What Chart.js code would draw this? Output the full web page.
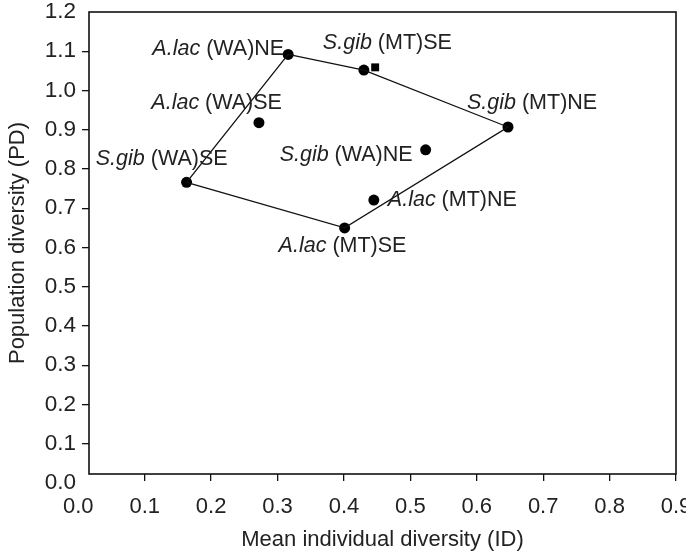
<!DOCTYPE html>
<html>
<head>
<meta charset="utf-8">
<script src="https://cdn.jsdelivr.net/npm/chart.js@4/dist/chart.umd.min.js"></script>
<style>
    html, body { margin: 0; padding: 0; background: #fff; }
    #wrap { width: 686px; height: 556px; position: relative; }
</style>
</head>
<body>
<div id="wrap"><canvas id="chart"></canvas></div>
<script>
// Populations: species (italic) + site, mean individual diversity and population diversity
const speciesNames = ['A.lac', 'S.gib', 'A.lac', 'S.gib', 'A.lac', 'A.lac', 'S.gib', 'S.gib'];
const siteNames = ['(WA)NE', '(MT)SE', '(WA)SE', '(WA)SE', '(MT)SE', '(MT)NE', '(MT)NE', '(WA)NE'];
const meanID = [0.316, 0.430, 0.272, 0.163, 0.401, 0.445, 0.647, 0.523];
const popPD = [1.092, 1.052, 0.918, 0.766, 0.650, 0.721, 0.907, 0.849];

// Square marker next to S.gib (MT)SE
const squareID = [0.447];
const squarePD = [1.059];

// Outline joining the outer populations (indices into the arrays above)
const hullOrder = [0, 1, 6, 4, 3, 0];

const xTicks = [0.0, 0.1, 0.2, 0.3, 0.4, 0.5, 0.6, 0.7, 0.8, 0.9];
const yTicks = [0.0, 0.1, 0.2, 0.3, 0.4, 0.5, 0.6, 0.7, 0.8, 0.9, 1.0, 1.1, 1.2];

// where each label sits relative to its point
const labelPlacement = [
    { align: 'right', dx: -4, dy: -5 },
    { align: 'left', dx: -41, dy: -27 },
    { align: 'right', dx: 23, dy: -20 },
    { align: 'right', dx: 41, dy: -23 },
    { align: 'left', dx: -66, dy: 18 },
    { align: 'left', dx: 14, dy: 0 },
    { align: 'left', dx: -41, dy: -24 },
    { align: 'right', dx: -13, dy: 5 }
];

const FONT = "'Liberation Sans', Arial, Helvetica, sans-serif";
const INK = '#222';
Chart.defaults.font.family = FONT;
Chart.defaults.color = INK;

// frame round the plot area
const frameBox = {
    id: 'frameBox',
    beforeDatasetsDraw(chart) {
        const { ctx, chartArea: a } = chart;
        ctx.save();
        ctx.strokeStyle = '#111';
        ctx.lineWidth = 1.6;
        ctx.strokeRect(a.left, a.top, a.right - a.left, a.bottom - a.top);
        ctx.restore();
    }
};

// population labels: italic species, upright site
const pointLabels = {
    id: 'pointLabels',
    afterDatasetsDraw(chart) {
        const { ctx } = chart;
        const meta = chart.getDatasetMeta(1);
        ctx.save();
        ctx.fillStyle = INK;
        ctx.textBaseline = 'middle';
        ctx.textAlign = 'left';
        meta.data.forEach((pt, i) => {
            const place = labelPlacement[i];
            const sp = speciesNames[i];
            const site = ' ' + siteNames[i];
            ctx.font = 'italic 21.5px ' + FONT;
            const w1 = ctx.measureText(sp).width;
            ctx.font = '21.5px ' + FONT;
            const w2 = ctx.measureText(site).width;
            let x = pt.x + place.dx;
            if (place.align === 'right') x -= (w1 + w2);
            const y = pt.y + place.dy;
            ctx.font = 'italic 21.5px ' + FONT;
            ctx.fillText(sp, x, y);
            ctx.font = '21.5px ' + FONT;
            ctx.fillText(site, x + w1, y);
        });
        ctx.restore();
    }
};

// no tick marks at the ends of the axes
const tickColor = (c) => {
    if (!c.tick) return '#111';
    const v = c.tick.value;
    return (v < 0.05 || v > 1.15) ? 'rgba(0,0,0,0)' : '#111';
};

new Chart(document.getElementById('chart'), {
    type: 'scatter',
    data: {
        datasets: [
            {
                label: 'outline',
                data: hullOrder.map(k => ({ x: meanID[k], y: popPD[k] })),
                showLine: true,
                borderColor: '#111',
                borderWidth: 1.3,
                pointRadius: 0,
                tension: 0
            },
            {
                label: 'populations',
                data: meanID.map((v, i) => ({ x: v, y: popPD[i] })),
                backgroundColor: '#000',
                borderColor: '#000',
                pointRadius: 5.5,
                borderWidth: 0
            },
            {
                label: 'square',
                data: squareID.map((v, i) => ({ x: v, y: squarePD[i] })),
                pointStyle: 'rect',
                backgroundColor: '#000',
                borderColor: '#000',
                pointRadius: 5.6,
                borderWidth: 0
            }
        ]
    },
    options: {
        responsive: true,
        maintainAspectRatio: false,
        animation: false,
        events: [],
        layout: { padding: { top: 12, right: 10, left: 0, bottom: 0 } },
        plugins: {
            legend: { display: false },
            tooltip: { enabled: false }
        },
        scales: {
            x: {
                type: 'linear',
                min: 0.0161,
                max: 0.9,
                afterBuildTicks: (scale) => { scale.ticks = xTicks.map(v => ({ value: v })); },
                afterFit: (scale) => {
                    scale.height = 82;
                    scale.paddingLeft = 0;
                    scale.paddingRight = 0;
                },
                border: { display: false },
                grid: {
                    drawOnChartArea: false,
                    drawTicks: true,
                    tickLength: 7,
                    color: tickColor,
                    lineWidth: 1.3
                },
                ticks: {
                    autoSkip: false,
                    maxRotation: 0,
                    padding: 13,
                    color: INK,
                    font: { size: 22 },
                    callback: (v) => Number(v).toFixed(1)
                },
                title: {
                    display: true,
                    text: 'Mean individual diversity (ID)',
                    color: INK,
                    font: { size: 22 },
                    padding: { top: 0, bottom: 3 }
                }
            },
            y: {
                type: 'linear',
                min: 0.023,
                max: 1.2,
                afterBuildTicks: (scale) => { scale.ticks = yTicks.map(v => ({ value: v })); },
                afterFit: (scale) => {
                    scale.width = 89;
                    scale.paddingTop = 0;
                    scale.paddingBottom = 0;
                },
                border: { display: false },
                grid: {
                    drawOnChartArea: false,
                    drawTicks: true,
                    tickLength: 7,
                    color: tickColor,
                    lineWidth: 1.3
                },
                ticks: {
                    autoSkip: false,
                    padding: 6,
                    color: INK,
                    font: { size: 22.5 },
                    callback: (v) => Number(v).toFixed(1)
                },
                title: {
                    display: true,
                    text: 'Population diversity (PD)',
                    color: INK,
                    font: { size: 22 },
                    padding: { top: 5, bottom: 0 }
                }
            }
        }
    },
    plugins: [frameBox, pointLabels]
});
</script>
</body>
</html>
